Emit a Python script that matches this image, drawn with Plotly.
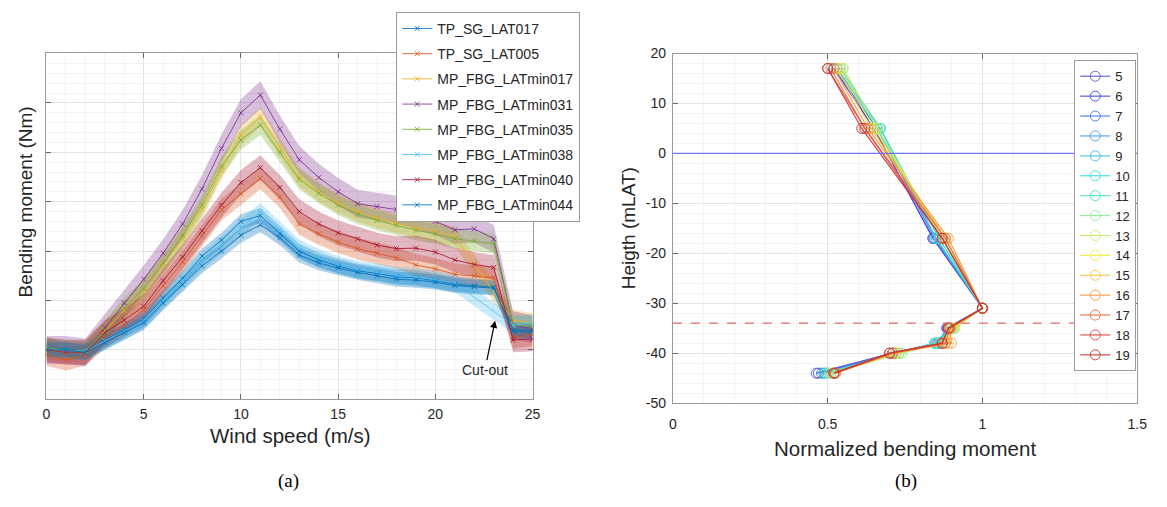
import plotly.graph_objects as go

# ---------------- (a) data ----------------
wind_speed = list(range(26))

series_names = ["TP_SG_LAT017", "TP_SG_LAT005", "MP_FBG_LATmin017", "MP_FBG_LATmin031",
                "MP_FBG_LATmin035", "MP_FBG_LATmin038", "MP_FBG_LATmin040", "MP_FBG_LATmin044"]

tp_sg_lat017 = [0.05, 0.02, -0.02, 0.20, 0.40, 0.62, 1.05, 1.45, 1.90, 2.22, 2.60, 2.72, 2.35, 2.00,
                1.82, 1.70, 1.60, 1.55, 1.48, 1.46, 1.40, 1.33, 1.30, 1.27, 0.40, 0.40]
tp_sg_lat005 = [-0.10, -0.20, -0.10, 0.25, 0.50, 0.81, 1.30, 1.78, 2.31, 2.84, 3.16, 3.47, 3.10, 2.55,
                2.35, 2.18, 2.05, 1.96, 1.86, 1.72, 1.64, 1.53, 1.50, 1.46, 0.25, 0.30]
mp_latmin017 = [0.00, -0.05, -0.05, 0.38, 0.80, 1.20, 1.72, 2.25, 2.85, 3.65, 4.35, 4.72, 4.10, 3.50,
                3.20, 2.97, 2.80, 2.67, 2.57, 2.47, 2.40, 2.30, None, None, 0.60, 0.55]
mp_latmin031 = [0.00, 0.00, -0.05, 0.45, 0.95, 1.43, 1.96, 2.55, 3.26, 4.08, 4.80, 5.16, 4.47, 3.85,
                3.49, 3.20, 2.96, 2.90, 2.84, 2.72, 2.60, 2.43, 2.45, 2.25, 0.50, 0.42]
mp_latmin035 = [0.05, 0.00, -0.02, 0.40, 0.85, 1.24, 1.76, 2.31, 2.93, 3.72, 4.25, 4.55, 4.00, 3.45,
                3.17, 2.93, 2.75, 2.62, 2.52, 2.42, 2.35, 2.25, 2.20, 2.15, 0.50, 0.48]
mp_latmin038 = [0.02, 0.00, -0.03, 0.18, 0.38, 0.60, 1.00, 1.40, 1.80, 2.12, 2.47, 2.80, 2.42, 2.05,
                1.86, 1.72, 1.62, 1.57, 1.50, 1.47, 1.42, 1.35, None, None, 0.50, 0.55]
mp_latmin040 = [0.00, -0.05, -0.05, 0.35, 0.60, 0.88, 1.40, 1.88, 2.41, 2.93, 3.39, 3.69, 3.29, 2.80,
                2.55, 2.37, 2.25, 2.12, 2.05, 2.06, 1.98, 1.82, 1.73, 1.67, 0.20, 0.22]
mp_latmin044 = [0.00, 0.00, -0.05, 0.15, 0.35, 0.55, 0.95, 1.32, 1.70, 2.00, 2.32, 2.53, 2.27, 1.92,
                1.76, 1.66, 1.57, 1.50, 1.43, 1.41, 1.37, 1.30, 1.28, 1.25, 0.38, 0.36]
band_halfwidth = [0.15, 0.22, 0.20, 0.28, 0.20, 0.18, 0.25, 0.15]

series_values = [tp_sg_lat017, tp_sg_lat005, mp_latmin017, mp_latmin031,
                 mp_latmin035, mp_latmin038, mp_latmin040, mp_latmin044]
series_colors = [(0, 114, 189), (217, 83, 25), (237, 177, 32), (126, 47, 142),
                 (119, 172, 48), (77, 190, 238), (162, 20, 47), (0, 114, 189)]

# ---------------- (b) data ----------------
heights = [17, 5, -17, -31, -35, -38, -40, -44]
wind_classes = [5, 6, 7, 8, 9, 10, 11, 12, 13, 14, 15, 16, 17, 18, 19]
norm_h17 = [0.52, 0.52, 0.52, 0.53, 0.53, 0.54, 0.54, 0.55, 0.55, 0.54, 0.53, 0.52, 0.51, 0.50, 0.50]
norm_h5 = [0.65, 0.65, 0.66, 0.66, 0.67, 0.67, 0.67, 0.66, 0.66, 0.65, 0.64, 0.63, 0.62, 0.62, 0.61]
norm_hm17 = [0.84, 0.84, 0.845, 0.85, 0.85, 0.86, 0.86, 0.87, 0.87, 0.88, 0.88, 0.89, 0.88, 0.87, 0.87]
norm_hm31 = [1.0] * 15
norm_hm35 = [0.885, 0.885, 0.89, 0.89, 0.895, 0.90, 0.905, 0.91, 0.91, 0.905, 0.90, 0.895, 0.895, 0.89, 0.89]
norm_hm38 = [0.86, 0.86, 0.855, 0.85, 0.845, 0.845, 0.85, 0.86, 0.87, 0.88, 0.89, 0.90, 0.88, 0.87, 0.87]
norm_hm40 = [0.71, 0.71, 0.71, 0.72, 0.72, 0.73, 0.73, 0.74, 0.73, 0.72, 0.72, 0.71, 0.71, 0.70, 0.70]
norm_hm44 = [0.463, 0.47, 0.48, 0.488, 0.49, 0.495, 0.50, 0.505, 0.51, 0.52, 0.52, 0.525, 0.525, 0.52, 0.52]
norm_by_height = [norm_h17, norm_h5, norm_hm17, norm_hm31, norm_hm35, norm_hm38, norm_hm40, norm_hm44]
wind_colors = ["#5a5ad2", "#4848e0", "#4a78e6", "#46a2e8", "#3cc4e6", "#34dede", "#48e6c2",
               "#86ee9c", "#c4ee6a", "#f2ea3e", "#f6c442", "#f49a3c", "#ee6c3c", "#e44646", "#c43434"]
reference_lines = [0, -34]

cutout_tip = (23.07, 0.59)
cutout_tail = (22.55, -0.40)

FONT = "Liberation Sans"
W, H = 1167, 507

fig = go.Figure()

# bands
for name, vals, col, hw in zip(series_names, series_values, series_colors, band_halfwidth):
    pts = [(x, v) for x, v in zip(wind_speed, vals) if v is not None]
    xs = [p[0] for p in pts]
    up = [p[1] + hw for p in pts]
    lo = [p[1] - hw for p in pts]
    fig.add_trace(go.Scatter(
        x=xs + xs[::-1], y=up + lo[::-1], fill="toself", mode="lines",
        line=dict(width=0), fillcolor="rgba(%d,%d,%d,0.30)" % col,
        hoverinfo="skip", showlegend=False, legendgroup=name, xaxis="x", yaxis="y"))

# lines
for name, vals, col in zip(series_names, series_values, series_colors):
    fig.add_trace(go.Scatter(
        x=wind_speed, y=vals, mode="lines+markers", name=name, connectgaps=True,
        line=dict(color="rgba(%d,%d,%d,0.85)" % col, width=1),
        marker=dict(symbol="x-thin-open", size=5, line=dict(width=1, color="rgba(%d,%d,%d,0.85)" % col)),
        legendgroup=name, legend="legend", xaxis="x", yaxis="y"))

# (b) traces
for i, ws in enumerate(wind_classes):
    xs = [norm_by_height[k][i] for k in range(len(heights))]
    fig.add_trace(go.Scatter(
        x=xs, y=heights, mode="lines+markers", name=str(ws),
        line=dict(color=wind_colors[i], width=1.2),
        marker=dict(symbol="circle-open", size=10, line=dict(width=1, color=wind_colors[i])),
        opacity=0.9, legend="legend2", xaxis="x2", yaxis="y2"))

axis_common = dict(showline=True, mirror="ticks", linecolor="#9a9a9a", linewidth=1,
                   ticks="inside", ticklen=5, tickcolor="#666666",
                   showgrid=True, gridcolor="#e3e3e3", gridwidth=1, zeroline=False,
                   tickfont=dict(family=FONT, size=14, color="#262626"))
minor_grid = dict(showgrid=True, gridcolor="#f3f3f3", gridwidth=1)

fig.update_layout(
    width=W, height=H, margin=dict(l=0, r=0, t=0, b=0),
    paper_bgcolor="white", plot_bgcolor="white",
    font=dict(family=FONT, color="#262626"),
    xaxis=dict(domain=[43 / W, 535 / W], range=[0, 25], dtick=5, tick0=0,
               minor=dict(dtick=1, **minor_grid), anchor="y", ticklabelstandoff=2, **axis_common),
    yaxis=dict(domain=[1 - 404 / H, 1 - 46 / H], range=[-1.0, 6.02], dtick=1, tick0=0,
               showticklabels=False, minor=dict(dtick=0.2, **minor_grid), anchor="x", **axis_common),
    xaxis2=dict(domain=[677 / W, 1147 / W], range=[0, 1.5], tickvals=[0, 0.5, 1, 1.5],
                ticktext=["0", "0.5", "1", "1.5"], minor=dict(dtick=0.1, **minor_grid),
                anchor="y2", ticklabelstandoff=8, **axis_common),
    yaxis2=dict(domain=[1 - 408 / H, 1 - 47 / H], range=[-50, 20],
                tickvals=[-50, -40, -30, -20, -10, 0, 10, 20],
                ticktext=["-50", "-40", "-30", "-20", "-10", "0", "10", "20"],
                minor=dict(dtick=2, **minor_grid), anchor="x2", ticklabelstandoff=3, **axis_common),
    legend=dict(x=397 / W, y=1 - 4 / H, xanchor="left", yanchor="top",
                bgcolor="white", bordercolor="#9a9a9a", borderwidth=1,
                font=dict(family=FONT, size=14, color="#262626"),
                traceorder="grouped", tracegroupgap=4, itemwidth=30),
    legend2=dict(x=1146 / W, y=1 - 54 / H, xanchor="right", yanchor="top",
                 bgcolor="white", bordercolor="#9a9a9a", borderwidth=1,
                 font=dict(family=FONT, size=13, color="#262626"), itemwidth=30),
)

for i, yv in enumerate(reference_lines):
    fig.add_shape(type="line", xref="x2 domain", yref="y2", x0=0, x1=1, y0=yv, y1=yv,
                  line=dict(color="#7373f0" if i == 0 else "#e06a6a", width=1.2,
                            dash="solid" if i == 0 else "dash"))


def label(x, y, text, size=19, angle=0, family=FONT, color="#262626"):
    return dict(x=x / W, y=1 - y / H, xref="paper", yref="paper", text=text, textangle=angle,
                xanchor="center", yanchor="middle", showarrow=False,
                font=dict(family=family, size=size, color=color))


annotations = [
    dict(x=cutout_tip[0], y=cutout_tip[1], xref="x", yref="y", ax=cutout_tail[0], ay=cutout_tail[1],
         axref="x", ayref="y", text="Cut-out", showarrow=True, arrowhead=2, arrowsize=1.2,
         arrowwidth=1.2, arrowcolor="#000000", font=dict(family=FONT, size=14, color="#262626")),
    label(290, 441, "Wind speed (m/s)", size=20.5),
    label(912, 455, "Normalized bending moment", size=20.5),
    label(22, 200, "Bending moment (Nm)", angle=-90),
    label(632, 227, "Heigth (mLAT)", angle=-90),
    label(288, 488, "(a)", size=19, family="Liberation Serif", color="#000000"),
    label(913, 488, "(b)", size=19, family="Liberation Serif", color="#000000"),
]
fig.update_layout(annotations=annotations)

fig.write_html("out.html")
